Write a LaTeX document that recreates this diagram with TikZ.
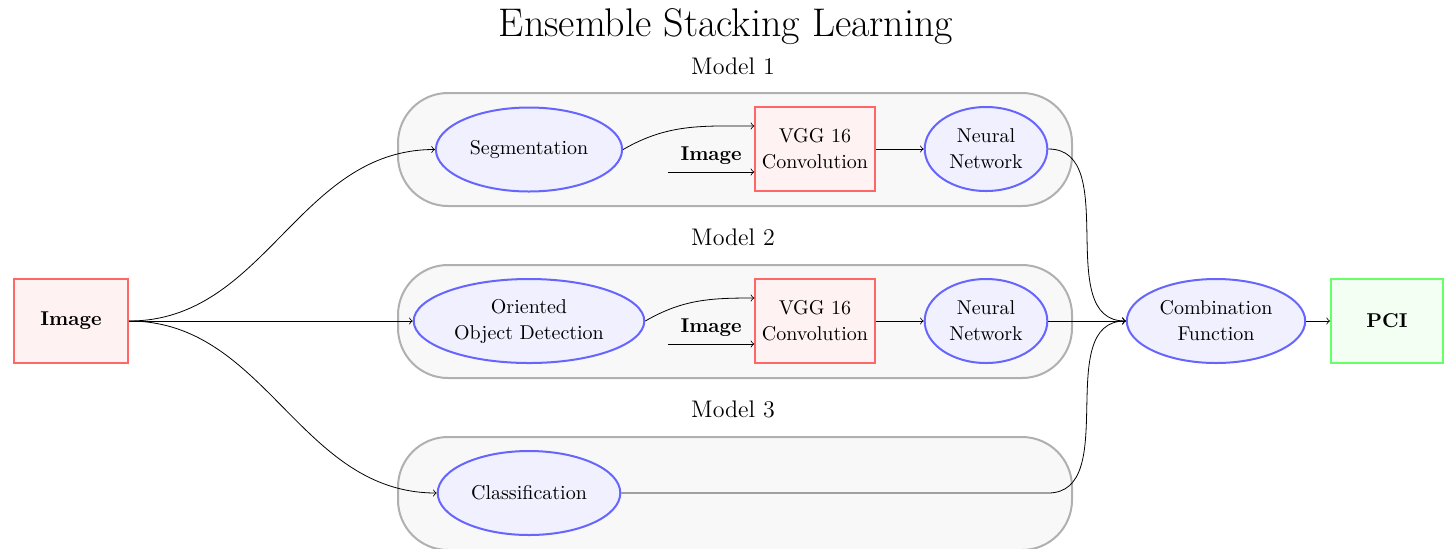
\documentclass[tikz,border=0pt]{standalone}
\usetikzlibrary{shapes.geometric}
\definecolor{redline}{HTML}{FF6666}
\definecolor{redfill}{HTML}{FFF2F2}
\definecolor{blueline}{HTML}{6666FF}
\definecolor{bluefill}{HTML}{F0F0FF}
\definecolor{greenline}{HTML}{66FF66}
\definecolor{greenfill}{HTML}{F2FFF2}
\definecolor{grayline}{HTML}{B0B0B0}
\definecolor{grayfill}{HTML}{F8F8F8}
\begin{document}
\begin{tikzpicture}[x=0.5pt,y=-0.5pt,
  box/.style={draw=redline,fill=redfill,line width=1pt,minimum width=57pt,minimum height=42pt,align=center,font=\fontsize{10}{13}\selectfont},
  ell/.style={ellipse,draw=blueline,fill=bluefill,line width=1pt,minimum height=42pt,align=center,font=\fontsize{10}{13}\selectfont},
  outbox/.style={draw=greenline,fill=greenfill,line width=1pt,minimum width=56pt,minimum height=42pt},
  container/.style={draw=grayline,fill=grayfill,line width=1pt,rounded corners=25pt,minimum width=337pt,minimum height=56.5pt},
  modellabel/.style={font=\large},
  arr/.style={->}]
\useasboundingbox (0,0) rectangle (1452,548);
\node[font=\fontsize{20}{24}\selectfont] (title) at (726,27) {Ensemble Stacking Learning};
% containers
\node[container] (m1) at (735,149.5) {};
\node[container] (m2) at (735,321.5) {};
\node[container] (m3) at (735,493.5) {};
\node[modellabel] (l1) at (733,66) {Model 1};
\node[modellabel] (l2) at (733,237) {Model 2};
\node[modellabel] (l3) at (733,409) {Model 3};
% nodes
\node[box,font=\bfseries] (img) at (71,321) {Image};
\node[ell] (seg) at (529,149.5) {Segmentation};
\node[box] (vgg1) at (815,149) {VGG 16\\Convolution};
\node[ell] (nn1) at (986,149) {Neural\\Network};
\node[ell] (ood) at (529,321) {Oriented\\Object Detection};
\node[box] (vgg2) at (815,321) {VGG 16\\Convolution};
\node[ell] (nn2) at (986,321) {Neural\\Network};
\node[ell] (cls) at (529,493) {Classification};
\node[ell] (comb) at (1216,321) {Combination\\Function};
\node[outbox,font=\bfseries] (pci) at (1387,321) {PCI};
\coordinate (i1) at (668,172);
\coordinate (i2) at (668,344);
\coordinate (c3) at (1048,493);
% connectors
\draw[arr] (img.east) to[out=0,in=180] (seg.west);
\draw[arr] (img.east) -- (ood.west);
\draw[arr] (img.east) to[out=0,in=180] (cls.west);
\draw[arr] (seg.east) to[out=30,in=180] ([yshift=11.5pt]vgg1.west);
\draw[arr] (i1) -- node[above,font=\bfseries]{Image} ([yshift=-11.5pt]vgg1.west);
\draw[arr] (vgg1) -- (nn1);
\draw[arr] (ood.east) to[out=30,in=180] ([yshift=11.5pt]vgg2.west);
\draw[arr] (i2) -- node[above,font=\bfseries]{Image} ([yshift=-11.5pt]vgg2.west);
\draw[arr] (vgg2) -- (nn2);
\draw[arr] (nn1.east) to[out=0,in=180] (comb.west);
\draw[arr] (nn2) -- (comb);
\draw[arr] (cls.east) -- (c3) to[out=0,in=180] (comb.west);
\draw[arr] (comb) -- (pci);
\end{tikzpicture}
\end{document}
